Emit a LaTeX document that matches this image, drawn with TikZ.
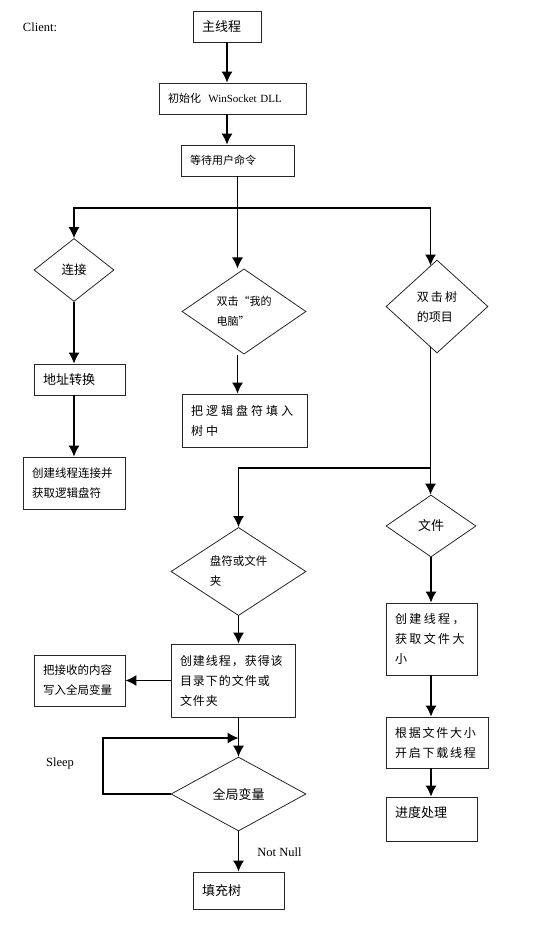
\documentclass[tikz,border=0pt]{standalone}
\usepackage{fontspec}
\setmainfont{Liberation Serif}
\newfontfamily\cjk{Noto Sans CJK SC}
\usetikzlibrary{shapes.geometric,arrows.meta}
\newcommand\zhsize[1]{\cjk\fontsize{#1}{20}\selectfont}

\begin{document}
\begin{tikzpicture}[x=1pt,y=-1pt,
	>={Latex[length=11pt,width=11pt]},
	line width=1.1pt,
	box/.style={draw=black!85,line width=0.9pt,rectangle,inner xsep=9pt,inner ysep=0pt,align=left},
	dia/.style={draw=black!85,line width=0.8pt,diamond,inner sep=0pt,align=left},
	lat/.style={font=\fontsize{12.5}{14}\selectfont}]
\useasboundingbox (0,0) rectangle (552,936);
\path (40,27) node[lat](client) {Client:}
	(227,26.5) node[box,text width=50pt,minimum height=31pt,font=\zhsize{13}](main) {主线程}
	(232.5,98.5) node[box,text width=129pt,minimum height=31pt,font=\zhsize{11}](init) {初始化\ \ {\rmfamily WinSocket DLL}}
	(237.5,160.5) node[box,text width=95pt,minimum height=31pt,font=\zhsize{11}](wait) {等待用户命令}
	;
% three branches
\path (74,270) node[dia,minimum width=80pt,minimum height=63pt,font=\zhsize{12.5}](conn) {连接}
	(244,311.5) node[dia,minimum width=124pt,minimum height=83pt,font=\zhsize{11}](mypc) {双击“我的\\电脑”}
	(437,306.5) node[dia,minimum width=102pt,minimum height=93pt,font=\zhsize{12}](item) {{\addfontfeature{LetterSpace=17}双击树}\\的项目}
	(79.5,379.5) node[box,text width=73pt,minimum height=31pt,font=\zhsize{13}](addr) {地址转换}
	(244.5,420.5) node[box,text width=107pt,minimum height=53pt,font={\zhsize{12}\addfontfeature{LetterSpace=25}}](drives) {把逻辑盘符填入\\树中}
	(74,483) node[box,text width=84pt,minimum height=52pt,font=\zhsize{11.5}](link) {创建线程连接并\\获取逻辑盘符}
	;
% tree item
\path (431,526) node[dia,minimum width=90pt,minimum height=62pt,font=\zhsize{13}](file) {文件}
	(238.5,571.5) node[dia,minimum width=135pt,minimum height=83pt,font=\zhsize{11.5}](folder) {盘符或文件\\夹}
	(233,680.5) node[box,text width=106pt,minimum height=73pt,font={\zhsize{12}\addfontfeature{LetterSpace=8}}](getdir) {创建线程，获得该\\目录下的文件或\\文件夹}
	(79.5,680.5) node[box,text width=73pt,minimum height=51pt,font=\zhsize{11.5}](recv) {把接收的内容\\写入全局变量}
	(238.5,794) node[dia,minimum width=135pt,minimum height=74pt,font=\zhsize{13}](global) {全局变量}
	(238.5,890.5) node[box,text width=73pt,minimum height=37pt,font=\zhsize{13}](filltree) {填充树}
	(431.5,639) node[box,text width=73pt,minimum height=72pt,font={\zhsize{12}\addfontfeature{LetterSpace=20}}](size) {创建线程，\\获取文件大\\小}
	(437,742.5) node[box,text width=84pt,minimum height=51pt,font={\zhsize{12}\addfontfeature{LetterSpace=15}}](down) {根据文件大小\\开启下载线程}
	(431.5,819) node[box,text width=73pt,minimum height=44pt,text height=10pt,text depth=13pt,font=\zhsize{13}](prog) {进度处理}
	(60,763) node[lat](sleep) {Sleep}
	(279.5,852) node[lat](notnull) {Not Null}
	;
\coordinate (split) at (wait.south |- 0,208);
\coordinate (split2) at (item.-99 |- 0,468);
\coordinate (join) at (global.north |- 0,738);
\coordinate (back) at (103,738);
\draw[->] (main.south) -- (main.south |- init.north);
\draw[->] (main.south |- init.south) -- (main.south |- wait.north);
\draw (wait.south) -- (split);
\draw[->] (split) -| (conn.north);
\draw[->] (split) -- (split |- mypc.north);
\draw[->] (split) -| (item.99);
\draw[->] (conn.south) -- (conn.south |- addr.north);
\draw[->] (link.north |- addr.south) -- (link.north);
\draw[->] (split |- mypc.south) -- (split |- drives.north);
\draw[->] (item.-99) -- (item.-99 |- file.north);
\draw[->] (split2) -| (folder.north);
\draw[->] (folder.south) -- (folder.south |- getdir.north);
\draw[->] (node cs:name=getdir) -- (node cs:name=recv);
\draw[->] (folder.south |- getdir.south) -- (global.north);
\draw[->] (global.west) -| (back) -- (join);
\draw[->] (global.south) -- (global.south |- filltree.north);
\draw[->] (file.south) -- (file.south |- size.north);
\draw[->] (file.south |- size.south) -- (file.south |- down.north);
\draw[->] (file.south |- down.south) -- (file.south |- prog.north);
\end{tikzpicture}
\end{document}
